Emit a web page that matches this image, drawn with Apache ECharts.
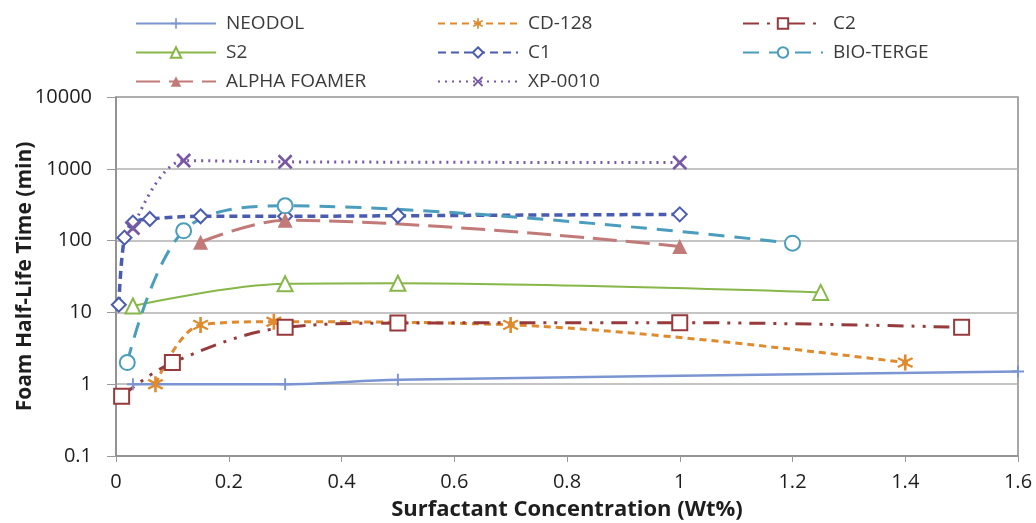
<!DOCTYPE html>
<html>
<head>
<meta charset="utf-8">
<script src="https://cdn.jsdelivr.net/npm/echarts@6/dist/echarts.min.js"></script>
<style>
  html, body { margin: 0; padding: 0; background: #fff; }
  #chart { width: 1036px; height: 523px; }
</style>
</head>
<body>
<div id="chart"></div>
<script>
// Foam half-life time vs surfactant concentration, one array per surfactant
const seriesNames = ['NEODOL', 'CD-128', 'C2', 'S2', 'C1', 'BIO-TERGE', 'ALPHA FOAMER', 'XP-0010'];

const neodol      = [[0.03, 1.0], [0.3, 1.0], [0.5, 1.15], [1.6, 1.5]];
const cd128       = [[0.07, 1.0], [0.15, 6.7], [0.28, 7.4], [0.7, 6.7], [1.4, 2.0]];
const c2          = [[0.01, 0.68], [0.1, 2.0], [0.3, 6.2], [0.5, 7.1], [1.0, 7.2], [1.5, 6.2]];
const s2          = [[0.03, 12.3], [0.3, 25], [0.5, 25.5], [1.25, 19]];
const c1          = [[0.005, 12.8], [0.015, 110], [0.03, 178], [0.06, 200], [0.15, 218], [0.3, 218], [0.5, 222], [1.0, 232]];
const bioTerge    = [[0.02, 2.0], [0.12, 137], [0.3, 305], [1.2, 92]];
const alphaFoamer = [[0.15, 95], [0.3, 192], [1.0, 83]];
const xp0010      = [[0.03, 150], [0.12, 1300], [0.3, 1250], [1.0, 1220]];

const xTicks = [0, 0.2, 0.4, 0.6, 0.8, 1, 1.2, 1.4, 1.6];
const yTicks = [0.1, 1, 10, 100, 1000, 10000];

const FONT = '"Open Sans", "Noto Sans", "Liberation Sans", sans-serif';

const plusPath = 'path://M4.2,0 L5.8,0 L5.8,4.2 L10,4.2 L10,5.8 L5.8,5.8 L5.8,10 L4.2,10 L4.2,5.8 L0,5.8 L0,4.2 L4.2,4.2 Z';
const starPath = 'path://M4.3,0 L5.7,0 L5.7,3.3 L8.6,1.6 L9.3,2.8 L6.4,4.5 L6.4,5.5 L9.3,7.2 L8.6,8.4 L5.7,6.7 L5.7,10 L4.3,10 L4.3,6.7 L1.4,8.4 L0.7,7.2 L3.6,5.5 L3.6,4.5 L0.7,2.8 L1.4,1.6 L4.3,3.3 Z';
const crossPath = 'path://M0,1.3 L1.3,0 L5,3.7 L8.7,0 L10,1.3 L6.3,5 L10,8.7 L8.7,10 L5,6.3 L1.3,10 L0,8.7 L3.7,5 Z';

function makeSeries(name, data, color, dash, width, symbol, symbolSize, hollow) {
  return {
    name: name,
    type: 'line',
    data: data,
    smooth: 0.35,
    symbol: symbol,
    symbolSize: symbolSize,
    showAllSymbol: true,
    lineStyle: { color: color, width: width, type: dash },
    itemStyle: hollow
      ? { color: '#ffffff', borderColor: color, borderWidth: 2 }
      : { color: color, borderColor: color, borderWidth: 0 },
    emphasis: { disabled: true },
    z: 3
  };
}

const series = [
  makeSeries('NEODOL', neodol, '#7b95d2', 'solid', 2.5, plusPath, 12, false),
  makeSeries('CD-128', cd128, '#df8a2d', [7, 5], 3, starPath, 16, false),
  makeSeries('C2', c2, '#963a3c', [16, 8, 3, 8, 3, 8], 3, 'rect', 15, true),
  makeSeries('S2', s2, '#86b748', 'solid', 2, 'triangle', 15, true),
  makeSeries('C1', c1, '#4a5cb0', [8, 5], 3.5, 'diamond', 14, true),
  makeSeries('BIO-TERGE', bioTerge, '#4a9dbd', [16, 10], 3, 'circle', 15, true),
  makeSeries('ALPHA FOAMER', alphaFoamer, '#c27a78', [24, 9], 3, 'triangle', 15, false),
  makeSeries('XP-0010', xp0010, '#7858a6', [2, 5], 3, crossPath, 15, false)
];

function legendCol(left, names) {
  return {
    orient: 'vertical',
    left: left,
    top: 9,
    itemGap: 10,
    itemWidth: 80,
    itemHeight: 13,
    data: names,
    selectedMode: false,
    textStyle: { fontFamily: FONT, fontSize: 19, color: '#3a3a3a', padding: [0, 0, 0, 5] }
  };
}

const chart = echarts.init(document.getElementById('chart'), null, { renderer: 'canvas' });
chart.setOption({
  animation: false,
  backgroundColor: '#ffffff',
  legend: [
    legendCol(130, ['NEODOL', 'S2', 'ALPHA FOAMER']),
    legendCol(432, ['CD-128', 'C1', 'XP-0010']),
    legendCol(737, ['C2', 'BIO-TERGE'])
  ],
  grid: {
    left: 116, right: 18, top: 97, bottom: 67,
    outerBoundsMode: 'none',
    containLabel: false,
    show: true, borderColor: '#8c8c8c', borderWidth: 1.5, backgroundColor: 'transparent'
  },
  xAxis: {
    type: 'value',
    min: 0, max: 1.6, interval: 0.2,
    name: 'Surfactant Concentration (Wt%)',
    nameLocation: 'middle',
    nameGap: 43,
    nameMoveOverlap: false,
    nameTextStyle: { fontFamily: FONT, fontSize: 22, fontWeight: 'bold', color: '#1e1e1e' },
    axisLine: { show: true, lineStyle: { color: '#8c8c8c', width: 1.5 } },
    axisTick: { show: true, length: 6, lineStyle: { color: '#9a9a9a' } },
    splitLine: { show: false },
    axisLabel: {
      fontFamily: FONT, fontSize: 20, color: '#1e1e1e', margin: 16,
      formatter: v => {
        const t = xTicks.find(k => Math.abs(k - v) < 1e-9);
        return t === undefined ? '' : String(t);
      }
    }
  },
  yAxis: {
    type: 'log',
    logBase: 10,
    min: 0.1, max: 10000,
    name: 'Foam Half-Life Time (min)',
    nameLocation: 'middle',
    nameGap: 80,
    nameMoveOverlap: false,
    nameTextStyle: { fontFamily: FONT, fontSize: 21, fontWeight: 'bold', color: '#1e1e1e' },
    axisLine: { show: true, lineStyle: { color: '#8c8c8c', width: 1.5 } },
    axisTick: { show: true, length: 9, lineStyle: { color: '#9a9a9a' } },
    splitLine: { show: true, lineStyle: { color: '#b0b0b0', width: 1.5 } },
    axisLabel: {
      fontFamily: FONT, fontSize: 20, color: '#1e1e1e', margin: 24,
      formatter: v => {
        const t = yTicks.find(k => Math.abs(k - v) / k < 1e-6);
        return t === undefined ? '' : String(t);
      }
    }
  },
  series: series
});
</script>
</body>
</html>
